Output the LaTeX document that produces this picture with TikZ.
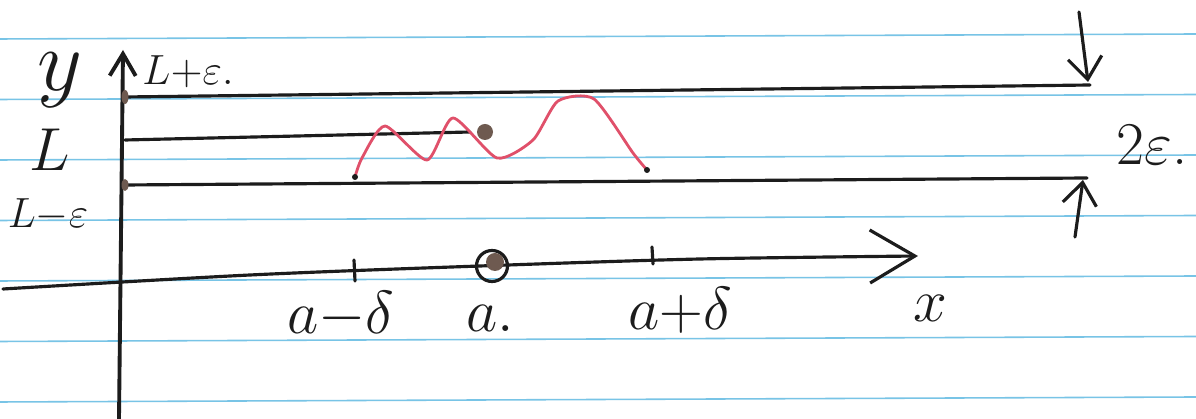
\documentclass[tikz,border=0pt]{standalone}
\usepackage{tikz}
\usetikzlibrary{arrows.meta}
\definecolor{ink}{HTML}{1C1C1C}
\definecolor{rule}{HTML}{78C4E6}
\definecolor{redink}{HTML}{E0506A}
\definecolor{brownink}{HTML}{6E5A50}

\begin{document}
\begin{tikzpicture}[x=0.1mm,y=-0.1mm,
  pen/.style={draw=ink,line width=0.9pt,line cap=round},
  ruled/.style={draw=rule,line width=0.45pt},
  lbl/.style={text=ink,inner sep=0pt},
  barb/.style={-{Straight Barb[length=2.2mm,width=3.4mm]}}]
\fill[white] (0,0) rectangle (1196,419);
\useasboundingbox (0,0) rectangle (1196,419);
% lined paper
\foreach \i in {0,...,6}
  \draw[ruled] (0,{39+60.5*\i}) -- (1196,{34+60.5*\i});
% axes
\coordinate (ybot) at (119,419);
\coordinate (ytop) at (123,50);
\draw[pen,line width=1.1pt,-{Straight Barb[length=2.2mm,width=2.6mm]}] (ybot) -- (ytop);
\coordinate (xstart) at (3,289);
\coordinate (xtip) at (918,256);
\draw[pen,-{Straight Barb[length=4.5mm,width=5.3mm]}] plot[smooth] coordinates {(xstart) (250,275) (480,266) (700,259) (xtip)};
% levels L+eps, L, L-eps
\coordinate (hi0) at (125,97);  \coordinate (hi1) at (1090,85);
\coordinate (mid0) at (125,140); \coordinate (mid1) at (470,132);
\coordinate (lo0) at (125,185); \coordinate (lo1) at (1087,178);
\draw[pen] (hi0) -- (hi1);
\draw[pen] (mid0) -- (mid1);
\draw[pen] (lo0) -- (lo1);
\fill[brownink] (hi0) ellipse (0.35mm and 0.7mm);
\fill[brownink] (lo0) ellipse (0.35mm and 0.6mm);
% the function
\coordinate (f0) at (355,177);
\coordinate (f1) at (647,170);
\draw[redink,line width=0.8pt] plot[smooth,tension=0.4] coordinates {(f0) (362,158) (385,126) (427,160) (453,118) (497,158) (533,140) (558,101) (594,99) (633,153) (f1)};
\fill[ink] (f0) circle (0.3mm);
\fill[ink] (f1) circle (0.3mm);
\fill[brownink] (485,132) circle (0.8mm);
% ticks on x axis
\draw[pen] (354,260) -- (355,281);
\draw[pen] (652,247) -- (653,264);
\node[draw=ink,circle,line width=0.9pt,minimum size=3.1mm,inner sep=0pt] (acirc) at (492,266) {};
\fill[brownink] (495,262) circle (0.9mm);
% 2 eps band
\coordinate (dtop) at (1079,12);
\coordinate (dbot) at (1075,237);
\draw[pen,barb] (dtop) -- (1088,82);
\draw[pen,barb] (dbot) -- (1083,180);
% labels
\node[lbl,font=\Huge] (ylab) at (60,80) {$y$};
\node[lbl,font=\large] (hilab) at (188,72) {$L{+}\varepsilon$.};
\node[lbl,font=\LARGE] (midlab) at (50,150) {$L$};
\node[lbl,font=\large] (lolab) at (48,215) {$L{-}\varepsilon$};
\node[lbl,font=\LARGE] (amlab) at (341,315) {$a{-}\delta$};
\node[lbl,font=\LARGE] (alab) at (490,318) {$a.$};
\node[lbl,font=\LARGE] (aplab) at (680,310) {$a{+}\delta$};
\node[lbl,font=\LARGE] (xlab) at (930,308) {$x$};
\node[lbl,font=\LARGE] (epslab) at (1152,145) {$2\varepsilon$.};
\end{tikzpicture}
\end{document}
